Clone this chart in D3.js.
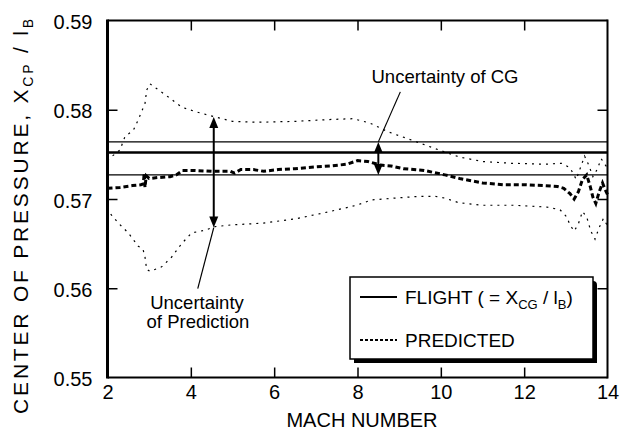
<!DOCTYPE html>
<html><head><meta charset="utf-8">
<script src="https://cdn.jsdelivr.net/npm/d3@7"></script>
<style>
html,body{margin:0;padding:0;background:#fff;}
svg{display:block;font-family:"Liberation Sans",Arial,Helvetica,sans-serif;}
</style></head><body>
<svg id="chart" width="626" height="438"></svg>
<script>
// Axis ticks
const xTicks = [2, 4, 6, 8, 10, 12, 14];
const yTicks = [0.55, 0.56, 0.57, 0.58, 0.59];

// Flight-derived centre of pressure (= CG position) and its uncertainty band
const flightXcp = 0.5752;
const cgUpper = 0.5764;
const cgLower = 0.5727;

// Predicted centre of pressure vs Mach number: [mach, Xcp/lB]
const predicted = [
  [2.0,0.5712],[2.3,0.5713],[2.6,0.5715],[2.8,0.5716],[2.86,0.5717],[2.88,0.5729],
  [2.9,0.5713],[2.93,0.5726],[3.0,0.5723],[3.2,0.5724],[3.5,0.5725],[3.65,0.5727],
  [3.8,0.5732],[4.1,0.5732],[4.5,0.5731],[4.95,0.5731],[5.05,0.5729],[5.2,0.5733],
  [5.5,0.5733],[5.75,0.5731],[6.1,0.5733],[6.5,0.5734],[7.0,0.5736],[7.35,0.5737],
  [7.75,0.5739],[8.0,0.5743],[8.25,0.5742],[8.55,0.5738],[8.8,0.5737],[9.1,0.5734],
  [9.6,0.5732],[10.1,0.5727],[10.45,0.5723],[11.0,0.5718],[11.5,0.5716],[12.0,0.5716],
  [12.5,0.5715],[12.8,0.5714],[12.95,0.5712],[13.1,0.5706],[13.2,0.5700],[13.3,0.5708],
  [13.4,0.5722],[13.5,0.5727],[13.58,0.5715],[13.65,0.5702],[13.72,0.5695],[13.8,0.5708],
  [13.88,0.5718],[13.95,0.5710],[14.0,0.5705]
];

// Upper limit of prediction uncertainty
const predUpper = [
  [2.0,0.5743],[2.06,0.5746],[2.3,0.5755],[2.42,0.5770],[2.62,0.5777],[2.74,0.5789],
  [2.9,0.5807],[2.94,0.5822],[3.02,0.5829],[3.38,0.5817],[3.78,0.5803],[4.1,0.5798],
  [4.58,0.5792],[5.0,0.5787],[5.6,0.5786],[6.5,0.5787],[7.3,0.5789],[7.9,0.5790],
  [8.3,0.5785],[8.75,0.5775],[9.3,0.5766],[9.95,0.5755],[10.45,0.5747],[11.0,0.5742],
  [11.7,0.5740],[12.5,0.5739],[12.9,0.5740],[13.1,0.5735],[13.25,0.5722],[13.35,0.5735],
  [13.45,0.5748],[13.55,0.5738],[13.65,0.5725],[13.75,0.5733],[13.85,0.5745],[13.95,0.5738],
  [14.0,0.5735]
];

// Lower limit of prediction uncertainty
const predLower = [
  [2.0,0.5690],[2.06,0.5684],[2.26,0.5673],[2.5,0.5662],[2.74,0.5647],[2.85,0.5644],
  [2.9,0.5635],[2.94,0.5621],[3.02,0.5619],[3.3,0.5624],[3.54,0.5635],[3.78,0.5650],
  [4.02,0.5662],[4.34,0.5665],[4.58,0.5669],[4.98,0.5671],[5.74,0.5673],[6.54,0.5678],
  [7.34,0.5686],[7.98,0.5693],[8.34,0.5699],[8.9,0.5701],[9.5,0.5703],[9.86,0.5703],
  [10.1,0.5701],[10.42,0.5696],[10.98,0.5693],[11.74,0.5693],[12.54,0.5691],[12.86,0.5688],
  [13.02,0.5680],[13.1,0.5671],[13.2,0.5664],[13.3,0.5672],[13.4,0.5686],[13.5,0.5680],
  [13.6,0.5664],[13.7,0.5655],[13.8,0.5668],[13.9,0.5678],[14.0,0.5670]
];

// Double-headed arrows marking the two uncertainty spans
const predictionSpan = { mach: 4.55, top: 0.5792, bottom: 0.5668 };
const cgSpan = { mach: 8.5, top: cgUpper, bottom: cgLower };

const W = 626, H = 438;
const m = { top: 20.5, right: 18.5, bottom: 60.5, left: 107.5 };

const svg = d3.select("#chart");
const x = d3.scaleLinear().domain([2, 14]).range([m.left, W - m.right]);
const y = d3.scaleLinear().domain([0.55, 0.59]).range([H - m.bottom, m.top]);

const inner = v => v !== x.domain()[0] && v !== x.domain()[1];
const innerY = v => v !== y.domain()[0] && v !== y.domain()[1];

// Axes with inward ticks on all four sides
const gx = svg.append("g").attr("transform", `translate(0,${H - m.bottom})`)
  .call(d3.axisBottom(x).tickValues(xTicks).tickSize(-10).tickPadding(7).tickFormat(d3.format("d")));
const gy = svg.append("g").attr("transform", `translate(${m.left},0)`)
  .call(d3.axisLeft(y).tickValues(yTicks).tickSize(-10).tickPadding(15).tickFormat(d3.format(".2f")));
const gt = svg.append("g").attr("transform", `translate(0,${m.top})`)
  .call(d3.axisTop(x).tickValues(xTicks).tickSize(-10).tickFormat(""));
const gr = svg.append("g").attr("transform", `translate(${W - m.right},0)`)
  .call(d3.axisRight(y).tickValues(yTicks).tickSize(-10).tickFormat(""));

[gx, gy, gt, gr].forEach(g => {
  g.select(".domain").remove();
  g.selectAll(".tick line").attr("stroke", "#000").attr("stroke-width", 1.5);
});
gx.selectAll(".tick").filter(d => !inner(d)).select("line").remove();
gt.selectAll(".tick").filter(d => !inner(d)).select("line").remove();
gy.selectAll(".tick").filter(d => !innerY(d)).select("line").remove();
gr.selectAll(".tick").filter(d => !innerY(d)).select("line").remove();

gx.selectAll(".tick text").attr("font-size", 20).attr("fill", "#000")
  .attr("font-family", '"Liberation Sans",Arial,sans-serif');
gy.selectAll(".tick text").attr("font-size", 20).attr("fill", "#000").attr("dy", "0.4em")
  .attr("font-family", '"Liberation Sans",Arial,sans-serif');

// Plot frame
const x0 = x(2), x1 = x(14), y0 = y(0.55), y1 = y(0.59);
const frame = svg.append("g").attr("stroke", "#000").attr("fill", "none");
frame.append("line").attr("x1", x0).attr("x2", x1).attr("y1", y1).attr("y2", y1).attr("stroke-width", 2);
frame.append("line").attr("x1", x0).attr("x2", x1).attr("y1", y0).attr("y2", y0).attr("stroke-width", 2);
frame.append("line").attr("x1", x1).attr("x2", x1).attr("y1", y1 - 1).attr("y2", y0 + 1).attr("stroke-width", 2);
frame.append("line").attr("x1", x0).attr("x2", x0).attr("y1", y1 - 1).attr("y2", y0 + 1).attr("stroke-width", 3);

// Flight value and CG uncertainty band
const hline = (v, w) => svg.append("line")
  .attr("x1", x0).attr("x2", x1).attr("y1", y(v)).attr("y2", y(v))
  .attr("stroke", "#000").attr("stroke-width", w);
hline(cgUpper, 1.1);
hline(cgLower, 1.1);
hline(flightXcp, 2.5);

const line = d3.line().x(d => x(d[0])).y(d => y(d[1]));

// Prediction uncertainty limits
[predUpper, predLower].forEach(s => {
  svg.append("path").datum(s).attr("d", line).attr("fill", "none")
    .attr("stroke", "#000").attr("stroke-width", 1.2).attr("stroke-dasharray", "2,5");
});

// Predicted curve
svg.append("path").datum(predicted).attr("d", line).attr("fill", "none")
  .attr("stroke", "#000").attr("stroke-width", 3).attr("stroke-dasharray", "5,3");

// Double-headed arrows
function spanArrow(s) {
  const ax = x(s.mach), yt = y(s.top), yb = y(s.bottom);
  const L = 11, hw = 4.5;
  const g = svg.append("g");
  g.append("line").attr("x1", ax).attr("x2", ax).attr("y1", yt + L - 1).attr("y2", yb - L + 1)
    .attr("stroke", "#000").attr("stroke-width", 2);
  g.append("path").attr("d", `M${ax},${yt}L${ax - hw},${yt + L}L${ax + hw},${yt + L}Z`).attr("fill", "#000");
  g.append("path").attr("d", `M${ax},${yb}L${ax - hw},${yb - L}L${ax + hw},${yb - L}Z`).attr("fill", "#000");
  return { ax, yt, yb };
}
const pa = spanArrow(predictionSpan);
const ca = spanArrow(cgSpan);

// Leaders and annotation labels
svg.append("line").attr("x1", pa.ax).attr("y1", pa.yb).attr("x2", pa.ax - 16).attr("y2", pa.yb + 61)
  .attr("stroke", "#000").attr("stroke-width", 1.2);
svg.append("line").attr("x1", ca.ax).attr("y1", ca.yt).attr("x2", ca.ax + 22).attr("y2", ca.yt - 50)
  .attr("stroke", "#000").attr("stroke-width", 1.2);

const note = svg.append("g").attr("font-size", 18.5).attr("fill", "#000").attr("text-anchor", "middle");
note.append("text").attr("x", 197).attr("y", 309).text("Uncertainty");
note.append("text").attr("x", 198).attr("y", 328).text("of Prediction");
note.append("text").attr("x", 445).attr("y", 83).text("Uncertainty of CG");

// Legend with drop shadow
const lg = { x: 350, y: 277, w: 243, h: 82, s: 4 };
svg.append("path")
  .attr("d", `M${lg.x + lg.s},${lg.y + lg.h}L${lg.x + lg.w},${lg.y + lg.h}L${lg.x + lg.w},${lg.y + lg.s}
    Q${lg.x + lg.w + lg.s},${lg.y + lg.s} ${lg.x + lg.w + lg.s},${lg.y + lg.s * 2}
    L${lg.x + lg.w + lg.s},${lg.y + lg.h + lg.s}L${lg.x + lg.s},${lg.y + lg.h + lg.s}Z`)
  .attr("fill", "#000");
svg.append("rect").attr("x", lg.x).attr("y", lg.y).attr("width", lg.w).attr("height", lg.h)
  .attr("fill", "#fff").attr("stroke", "#000").attr("stroke-width", 1.5);

svg.append("line").attr("x1", 360).attr("x2", 397).attr("y1", 297).attr("y2", 297)
  .attr("stroke", "#000").attr("stroke-width", 2);
svg.append("line").attr("x1", 360).attr("x2", 397).attr("y1", 340).attr("y2", 340)
  .attr("stroke", "#000").attr("stroke-width", 1.8).attr("stroke-dasharray", "3,2");

const l1 = svg.append("text").attr("x", 405).attr("y", 304).attr("font-size", 19).attr("fill", "#000");
l1.append("tspan").text("FLIGHT ( = X");
l1.append("tspan").attr("font-size", 13).attr("dy", 5).text("CG");
l1.append("tspan").attr("dy", -5).text(" / l");
l1.append("tspan").attr("font-size", 13).attr("dy", 5).text("B");
l1.append("tspan").attr("dy", -5).text(")");
svg.append("text").attr("x", 405).attr("y", 347).attr("font-size", 19).attr("fill", "#000").text("PREDICTED");

// Axis titles
svg.append("text").attr("x", 362).attr("y", 427).attr("font-size", 20).attr("text-anchor", "middle")
  .attr("fill", "#000").text("MACH NUMBER");

const yt = svg.append("text").attr("transform", "translate(28,215) rotate(-90)")
  .attr("text-anchor", "middle").attr("font-size", 21).attr("letter-spacing", 2.8).attr("fill", "#000");
yt.append("tspan").text("CENTER OF PRESSURE, X");
yt.append("tspan").attr("font-size", 14).attr("dy", 5).text("CP");
yt.append("tspan").attr("dy", -5).text(" / l");
yt.append("tspan").attr("font-size", 14).attr("dy", 5).text("B");
</script>
</body></html>
